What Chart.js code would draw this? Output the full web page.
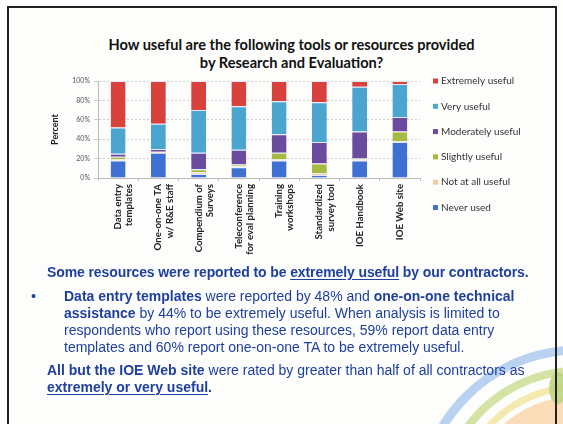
<!DOCTYPE html>
<html>
<head>
<meta charset="utf-8">
<script src="https://cdn.jsdelivr.net/npm/chart.js@4.4.1/dist/chart.umd.min.js"></script>
<style>
  html, body { margin:0; padding:0; background:#fdfdfc; }
  body { width:563px; height:424px; position:relative; overflow:hidden; }
  #frame { position:absolute; left:7px; top:6px; width:550px; height:440px; border:2px solid #222; box-sizing:border-box; }
  #deco { position:absolute; left:0; top:0; }
  #wrap { position:absolute; left:0; top:0; width:563px; height:268px; }
  #title { position:absolute; left:0; top:36px; width:583px; text-align:center; font-family:Lato, "Open Sans", sans-serif; font-weight:bold; font-size:14.6px; line-height:18px; color:#111; }
  .txt { position:absolute; font-family:"Liberation Sans", Arial, sans-serif; font-size:14px; line-height:17px; color:#1e3f9e; white-space:nowrap; }
  .b { font-weight:bold; }
  .u { text-decoration:underline; text-underline-offset:2px; }
</style>
</head>
<body>
<svg id="deco" width="563" height="424">
  <circle cx="578" cy="508" r="112" fill="#f9d3a8" opacity="0.8"/>
  <circle cx="578" cy="508" r="121" fill="none" stroke="#f3e7a6" stroke-width="7" opacity="0.9"/>
  <circle cx="578" cy="508" r="137" fill="none" stroke="#cfe09a" stroke-width="8" opacity="0.9"/>
  <circle cx="578" cy="508" r="158" fill="none" stroke="#b3cdef" stroke-width="9" opacity="0.9"/>
  <ellipse cx="558" cy="388" rx="9" ry="16" fill="#b9d47a" opacity="0.85"/>
</svg>
<div id="frame"></div>
<div id="title">How useful are the following tools or resources provided<br>by Research and Evaluation?</div>
<div id="wrap"><canvas id="c" width="563" height="268"></canvas></div>

<div class="txt b" style="left:47px; top:264px; letter-spacing:-0.1px;">Some resources were reported to be <span class="u">extremely useful</span> by our contractors.</div>
<div class="txt" style="left:31px; top:288px;">•</div>
<div class="txt" style="left:64px; top:288px;"><span class="b">Data entry templates</span> were reported by 48% and <span class="b">one-on-one technical</span></div>
<div class="txt" style="left:64px; top:305px;"><span class="b">assistance</span> by 44% to be extremely useful. When analysis is limited to</div>
<div class="txt" style="left:64px; top:322px;">respondents who report using these resources, 59% report data entry</div>
<div class="txt" style="left:64px; top:339px;">templates and 60% report one-on-one TA to be extremely useful.</div>
<div class="txt" style="left:47px; top:362px;"><span class="b">All but the IOE Web site</span> were rated by greater than half of all contractors as</div>
<div class="txt b" style="left:47px; top:379px;"><span class="u">extremely or very useful</span>.</div>

<script>
const categories = [
  ["Data entry", "templates"],
  ["One-on-one TA", "w/ R&E staff"],
  ["Compendium of", "Surveys"],
  ["Teleconference", "for eval planning"],
  ["Training", "workshops"],
  ["Standardized", "survey tool"],
  ["IOE Handbook"],
  ["IOE Web site"]
];
const neverUsed  = [18, 26,  4, 11, 18,  3, 18, 37];
const notAtAll   = [ 1,  1,  2,  1,  1,  2,  1,  1];
const slightly   = [ 3,  0,  3,  2,  7, 10,  1, 10];
const moderately = [ 3,  3, 17, 15, 19, 22, 28, 15];
const very       = [27, 26, 44, 45, 34, 41, 46, 34];
const extremely  = [48, 44, 30, 26, 21, 22,  6,  3];
const yTicks = ["0%", "20%", "40%", "60%", "80%", "100%"];

const seriesNames = ["Never used", "Not at all useful", "Slightly useful", "Moderately useful", "Very useful", "Extremely useful"];
const seriesData = [neverUsed, notAtAll, slightly, moderately, very, extremely];
const seriesColors = ["#3f70d4", "#f6cb9e", "#a5b943", "#6a4c9f", "#4aa6cf", "#d9413d"];

const sideLegend = {
  id: 'sideLegend',
  afterDraw(chart) {
    const ctx = chart.ctx;
    const ds = chart.data.datasets.slice().reverse();
    ctx.save();
    ctx.font = '10px Lato, "Open Sans", sans-serif';
    ctx.textBaseline = 'middle';
    ds.forEach((d, i) => {
      const y = 81 + i * 25.3;
      ctx.fillStyle = d.backgroundColor;
      ctx.fillRect(433, y - 2.5, 5, 5);
      ctx.fillStyle = '#333';
      ctx.fillText(d.label, 441, y);
    });
    ctx.restore();
  }
};

new Chart(document.getElementById('c'), {
  type: 'bar',
  data: {
    labels: categories,
    datasets: seriesNames.map((n, i) => ({
      label: n,
      data: seriesData[i],
      backgroundColor: seriesColors[i],
      borderColor: 'rgba(225,232,248,0.9)',
      borderWidth: {top: 1, bottom: 0, left: 0, right: 0},
      borderSkipped: false,
      barPercentage: 0.37,
      categoryPercentage: 1.0
    }))
  },
  options: {
    responsive: false,
    animation: false,
    devicePixelRatio: 1,
    layout: { padding: { left: 50, right: 143, top: 81, bottom: 0 } },
    plugins: {
      legend: { display: false },
      tooltip: { enabled: false },
      title: { display: false }
    },
    scales: {
      x: {
        stacked: true,
        grid: { display: true, drawOnChartArea: false, tickLength: 3, color: '#bbb' },
        border: { color: '#bbb' },
        ticks: {
          minRotation: 90, maxRotation: 90, autoSkip: false,
          font: { family: 'Lato, "Open Sans", sans-serif', size: 9.6, weight: 'bold', lineHeight: 1.15 },
          color: '#222', padding: 3
        },
        afterFit(s) { s.height = 90; }
      },
      y: {
        stacked: true,
        min: 0, max: 100,
        afterBuildTicks(s) { s.ticks = yTicks.map(t => ({ value: parseFloat(t) })); },
        ticks: {
          callback: (v) => yTicks[Math.round(v / 20)],
          font: { family: 'Lato, "Open Sans", sans-serif', size: 7 },
          color: '#555', padding: 4
        },
        grid: { color: '#cfcfcf', tickLength: 4, lineWidth: 1 },
        border: { dash: [2, 2], color: '#bbb' },
        title: {
          display: true, text: 'Percent',
          font: { family: 'Lato, "Open Sans", sans-serif', size: 9, weight: 'bold' },
          color: '#222', padding: { top: 0, bottom: 6 }
        },
        afterFit(s) { s.width = 48; }
      }
    }
  },
  plugins: [sideLegend]
});
</script>
</body>
</html>
